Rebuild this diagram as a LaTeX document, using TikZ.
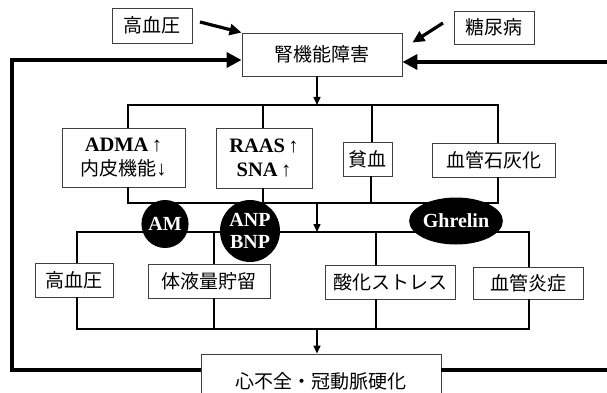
\documentclass[tikz,border=0pt]{standalone}
\usepackage{fontspec}
\setmainfont{Liberation Serif}
\newfontfamily\jp{Noto Sans CJK JP}
\usetikzlibrary{arrows.meta,shapes.geometric}
\begin{document}
\begin{tikzpicture}[x=1pt,y=-1pt,
  bx/.style={draw=black!75,line width=0.9pt,fill=white,inner sep=0pt,align=center,
    font=\jp\fontsize{19}{24}\selectfont},
  sf/.style={},
  conn/.style={line width=1.5pt},
  thinarrow/.style={conn,-{Triangle[length=8pt,width=7pt]}},
  heavy/.style={line width=4pt,line join=miter},
  bigarrow/.style={line width=4pt,line join=miter,-{Triangle[length=15pt,width=15pt]}},
  slant/.style={line width=3.2pt,-{Triangle[length=12pt,width=11pt]}},
  blob/.style={ellipse,fill=black,text=white,inner sep=0pt,align=center,
    font=\bfseries\fontsize{20}{22}\selectfont}
]
\useasboundingbox (0,0) rectangle (607,393);
\fill[white] (0,0) rectangle (607,393);
\clip (0,0) rectangle (607,393);

% coordinates
\coordinate (a0) at (317,105);
\coordinate (a1) at (128,105);
\coordinate (a2) at (263,105);
\coordinate (a3) at (372,105);
\coordinate (a4) at (498,105);
\coordinate (b0) at (317,203);
\coordinate (b1) at (128,203);
\coordinate (b2) at (263,203);
\coordinate (b3) at (371,203);
\coordinate (b4) at (498,203);
\coordinate (c0) at (317,232);
\coordinate (c1) at (77,232);
\coordinate (c2) at (214,232);
\coordinate (c3) at (376,232);
\coordinate (c4) at (529,232);
\coordinate (d0) at (317,329);
\coordinate (d1) at (77,329);
\coordinate (d2) at (214,329);
\coordinate (d3) at (376,329);
\coordinate (d4) at (529,329);
\coordinate (L1) at (12,370);
\coordinate (L2) at (12,60);
\coordinate (R1) at (612,62);
\coordinate (R2) at (612,370);
\coordinate (s1) at (200,22);
\coordinate (s2) at (443,23);

% boxes
\node[bx,minimum width=80pt,minimum height=35pt] (hbpA) at (152,25.5) {高血圧};
\node[bx,minimum width=80pt,minimum height=33pt] (dm) at (494,27.5) {糖尿病};
\node[bx,minimum width=160pt,minimum height=43pt] (kid) at (322,54.5) {腎機能障害};
\node[bx,minimum width=123pt,minimum height=59pt] (adma) at (123.5,157.5)
  {{\rmfamily\bfseries\fontsize{20.5}{24}\selectfont ADMA\,↑}\\内皮機能{\rmfamily\bfseries\fontsize{20.5}{24}\selectfont ↓}};
\node[bx,minimum width=96pt,minimum height=60pt] (raas) at (264,158)
  {{\rmfamily\bfseries\fontsize{20.5}{24}\selectfont RAAS\,↑}\\{\rmfamily\bfseries\fontsize{20.5}{24}\selectfont SNA\,↑}};
\node[bx,minimum width=49pt,minimum height=34pt] (anemia) at (367.5,159) {貧血};
\node[bx,minimum width=123pt,minimum height=34pt] (calc) at (493.5,160) {血管石灰化};
\node[bx,minimum width=78pt,minimum height=34pt] (hbpB) at (74,280) {高血圧};
\node[bx,minimum width=122pt,minimum height=34pt] (fluid) at (209,281) {体液量貯留};
\node[bx,minimum width=130pt,minimum height=34pt] (ox) at (390,282) {酸化ストレス};
\node[bx,minimum width=110pt,minimum height=32pt] (infl) at (528,283) {血管炎症};
\node[bx,minimum width=240pt,minimum height=54pt] (hf) at (321,381) {心不全・冠動脈硬化};

% slanted input arrows
\draw[slant] (s1) -- (kid.north west);
\draw[slant] (s2) -- ([xshift=10pt,yshift=-10pt]kid.north east);

% feedback loop
\draw[bigarrow] (L1 -| hf.west) -- (L1) -- (L2) -- (L2 -| kid.west);
\draw[bigarrow] (R1) -- (R1 -| kid.east);
\draw[heavy] (R2 -| hf.east) -- (R2);

% upper distribution
\draw[thinarrow] (kid.south -| a0) -- (a0);
\draw[conn] (adma.north -| a1) -- (a1) -- (a4) -- (calc.north -| a4);
\draw[conn] (a2) -- (raas.north -| a2);
\draw[conn] (a3) -- (anemia.north -| a3);

% upper collection
\draw[conn] (adma.south -| b1) -- (b1) -- (b4) -- (calc.south -| b4);
\draw[conn] (raas.south -| b2) -- (b2);
\draw[conn] (anemia.south -| b3) -- (b3);
\draw[thinarrow] (b0) -- (c0);

% lower distribution
\draw[conn] (hbpB.north -| c1) -- (c1) -- (c4) -- (infl.north -| c4);
\draw[conn] (c2) -- (fluid.north -| c2);
\draw[conn] (c3) -- (ox.north -| c3);

% lower collection
\draw[conn] (hbpB.south -| d1) -- (d1) -- (d4) -- (infl.south -| d4);
\draw[conn] (fluid.south -| d2) -- (d2);
\draw[conn] (ox.south -| d3) -- (d3);
\draw[thinarrow] (d0) -- (hf.north -| d0);

% hormone blobs
\node[blob,minimum width=46pt,minimum height=48pt] (am) at (165,224) {AM};
\node[blob,minimum width=60pt,minimum height=62pt] (anp) at (250,231) {ANP\\BNP};
\node[blob,minimum width=83pt,minimum height=47pt] (ghr) at (456,221) {Ghrelin};
\end{tikzpicture}
\end{document}
